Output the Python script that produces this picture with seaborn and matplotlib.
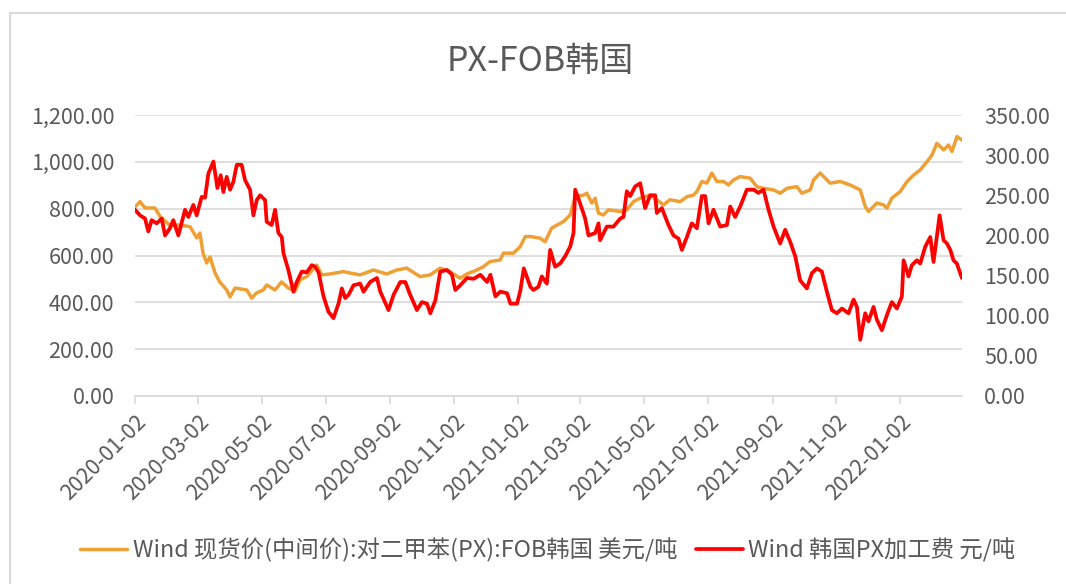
import numpy as np
import pandas as pd
import matplotlib
matplotlib.use("Agg")
import matplotlib.pyplot as plt
from matplotlib.patches import Rectangle
from matplotlib.ticker import FuncFormatter
import seaborn as sns

sns.set_theme(style="white")
plt.rcParams['font.family'] = ['Noto Sans CJK SC', 'DejaVu Sans']

title = "PX-FOB韩国"
label_px = "Wind 现货价(中间价):对二甲苯(PX):FOB韩国 美元/吨"
label_fee = "Wind 韩国PX加工费 元/吨"
start_date = "2020-01-02"

# days since 2020-01-02 and values (left axis, USD/t)
px_day = [0, 4.8, 9.6, 19, 24, 33, 43, 52.6, 59, 62, 65, 68.5, 71.7, 76.5, 81, 87.6, 90.8,
          95.6, 106.7, 111.5, 116, 122.6, 125.8, 133.8, 140, 146.5, 153, 157.7, 164, 173.6,
          178.4, 186, 199, 215, 227.7, 240.5, 250, 259.6, 272.3, 281.9, 291.4, 301, 310.5,
          317, 326.5, 332.8, 339, 348.8, 352, 361.5, 368, 372.8, 377.6, 387, 391.8, 398,
          409.3, 415.7, 420.5, 428.4, 431.6, 436.4, 439.6, 442.7, 447.5, 452.3, 463.5, 469.9,
          476.2, 482.6, 492, 498.5, 504.8, 511, 520.8, 527.2, 533.5, 536.7, 541.5, 546.3,
          551, 555.9, 562.2, 567, 571.7, 578, 587.7, 594, 600.4, 610, 616.4, 622.8, 632.3,
          637, 645, 648.2, 654.6, 664, 673.7, 683.2, 692.8, 697.6, 700.7, 708.7, 715, 718.3,
          723, 731, 737.5, 743.8, 750, 756.6, 761.3, 766, 772.5, 777.2, 780.4, 785.2, 790]
px_val = [807, 830, 803, 803, 766, 730, 730, 723, 675, 696, 610, 568, 594, 525, 487, 453, 423,
          461, 453, 418, 440, 453, 474, 453, 487, 461, 448, 496, 510, 559,
          517, 521, 531, 517, 538, 521, 538, 546, 510, 517, 546, 531, 503,
          521, 538, 552, 574, 581, 610, 610, 638, 681, 681, 674, 659, 717,
          745, 773, 851, 858, 866, 824, 845, 781, 773, 795, 788, 795,
          830, 845, 858, 838, 816, 838, 830, 851, 858, 873, 916, 909,
          952, 916, 916, 901, 923, 937, 930, 894, 887, 880, 866, 887, 894,
          866, 880, 923, 952, 909, 916, 901, 880, 809, 788, 824, 816, 802,
          845, 873, 916, 944, 965, 1001, 1029, 1079, 1051, 1072, 1044, 1108, 1093]

# days since 2020-01-02 and values (right axis, yuan/t)
fee_day = [0, 4.8, 9.6, 12.7, 15.9, 20.7, 25.5, 28.7, 33.4, 36.6, 41.4, 47.8, 51, 55.7, 58.9,
           63.7, 66.9, 70.1, 74.9, 78.7, 81.9, 84.4, 87.6, 90.8, 94, 97.2, 101.9, 105.1,
           109.9, 113.1, 116.3, 119.5, 124.3, 125.8, 130.6, 133.8, 137, 140.2, 141.8, 146.5,
           151.3, 154.5, 159.3, 164.1, 168.9, 172.1, 175.3, 180.1, 184.8, 189.6, 194.4,
           197.6, 200.8, 204, 208.8, 215.1, 218.3, 224.7, 231.1, 234.3, 242.2, 247, 253.4,
           258.2, 262.9, 269.3, 274.1, 278.9, 282.1, 286.9, 291.6, 298, 302.8, 306, 310.8,
           317.1, 323.5, 329.9, 336.3, 339.5, 344.3, 349, 355.4, 358.6, 365, 368.2, 371.4,
           377.7, 380.6, 385.4, 388.6, 393.4, 396.6, 401.3, 406.1, 410.9, 415.7, 418.9,
           420.5, 425.2, 430, 433.2, 439.6, 442.8, 444.3, 450.7, 457.1, 463.5, 466.6, 469.8,
           473, 477.8, 482.6, 487.3, 492.1, 496.9, 498.5, 503.3, 509.6, 514.4, 519.2, 522.4,
           527.2, 531.9, 536.7, 541.5, 544.7, 547.9, 552.6, 559, 565.4, 568.6, 573.3, 578.1,
           584.5, 590.9, 595.6, 600.4, 605.2, 610, 616.3, 621.1, 625.9, 630.7, 635.4, 641.8,
           646.6, 651.4, 656.1, 660.9, 665.7, 670.5, 675.3, 681.6, 686.4, 689.6, 692.8,
           697.5, 700.7, 705.5, 708.7, 713.5, 718.3, 723, 727.8, 732.6, 734.2, 738.9, 742.1,
           746.9, 750.1, 754.9, 759.7, 762.8, 768.6, 772.4, 775.6, 778.8, 781.9, 785.1, 789.9]
fee_val = [232, 225, 221, 205, 219, 215, 221, 200, 209, 219, 200, 232, 223, 238, 225,
           248, 247, 277, 292, 259, 275, 254, 273, 257, 267, 288, 288, 269,
           257, 225, 244, 250, 244, 217, 213, 232, 203, 198, 178, 157,
           130, 142, 155, 154, 163, 161, 154, 124, 105, 97, 115,
           134, 122, 126, 138, 140, 130, 142, 147, 130, 107, 126, 142,
           142, 126, 107, 117, 115, 103, 119, 155, 157, 151, 132, 138,
           147, 146, 151, 142, 151, 124, 130, 128, 115, 115, 132, 159,
           136, 132, 136, 149, 140, 182, 161, 165, 174, 186, 203,
           257, 240, 221, 200, 203, 215, 194, 211, 211, 221, 223, 255,
           249, 261, 265, 234, 250, 250, 228, 234, 213, 200, 196, 182,
           198, 215, 209, 249, 249, 215, 232, 211, 213, 236, 223, 236,
           257, 257, 253, 257, 232, 211, 190, 207, 192, 174, 144, 134,
           153, 159, 155, 130, 107, 103, 109, 103, 120, 111, 70,
           103, 93, 111, 95, 82, 101, 117, 109, 124, 169, 149, 163,
           169, 165, 186, 198, 167, 225, 194, 190, 182, 169, 165, 147]

left_ticks = [0, 200, 400, 600, 800, 1000, 1200]
right_ticks = [0, 50, 100, 150, 200, 250, 300, 350]
tick_dates = ["2020-01-02", "2020-03-02", "2020-05-02", "2020-07-02", "2020-09-02",
              "2020-11-02", "2021-01-02", "2021-03-02", "2021-05-02", "2021-07-02",
              "2021-09-02", "2021-11-02", "2022-01-02"]

t0 = pd.Timestamp(start_date)
df_px = pd.DataFrame({"date": t0 + pd.to_timedelta(px_day, unit="D"), "value": px_val})
df_fee = pd.DataFrame({"date": t0 + pd.to_timedelta(fee_day, unit="D"), "value": fee_val})

ORANGE = "#EEA035"
RED = "#FF0000"
GREY = "#595959"
GRID = "#D9D9D9"
TICK_FS = 15.5

fig = plt.figure(figsize=(10.66, 5.84), dpi=100)
ax = fig.add_axes([135 / 1066, 1 - 396 / 584, (962 - 135) / 1066, (396 - 115) / 584])
ax2 = ax.twinx()

sns.lineplot(data=df_px, x="date", y="value", ax=ax, color=ORANGE, linewidth=2.5,
             label=label_px, legend=False)
sns.lineplot(data=df_fee, x="date", y="value", ax=ax2, color=RED, linewidth=2.7,
             label=label_fee, legend=False)

ax.set_ylim(0, 1200)
ax2.set_ylim(0, 350)
ax.set_yticks(left_ticks)
ax2.set_yticks(right_ticks)
fmt = FuncFormatter(lambda v, p: f"{v:,.2f}")
ax.yaxis.set_major_formatter(fmt)
ax2.yaxis.set_major_formatter(fmt)

ax.set_xlim(t0, t0 + pd.Timedelta(days=790))
ax.set_xticks(pd.to_datetime(tick_dates))
ax.set_xticklabels(tick_dates, rotation=45, ha="right", rotation_mode="anchor")

ax.grid(axis="y", color=GRID, linewidth=1.2)
ax.set_axisbelow(True)
for a in (ax, ax2):
    for s in ("left", "right", "top"):
        a.spines[s].set_visible(False)
    a.set_xlabel("")
    a.set_ylabel("")
ax2.spines["bottom"].set_visible(False)
ax.spines["bottom"].set_color(GRID)
ax.spines["bottom"].set_linewidth(1.2)

ax.tick_params(axis="x", colors=GRID, length=6, width=1.2, direction="out", pad=5,
               labelcolor=GREY, labelsize=TICK_FS)
ax.tick_params(axis="y", length=0, labelcolor=GREY, labelsize=TICK_FS, pad=15)
ax2.tick_params(axis="y", length=0, labelcolor=GREY, labelsize=TICK_FS, pad=16)
ax.xaxis.set_tick_params(bottom=True)

fig.text(540 / 1066, 1 - 61 / 584, title, ha="center", va="center", fontsize=24.5, color=GREY)

h1, l1 = ax.get_legend_handles_labels()
h2, l2 = ax2.get_legend_handles_labels()
fig.legend(h1 + h2, l1 + l2, loc="center", bbox_to_anchor=(548 / 1066, 1 - 550 / 584),
           ncol=2, frameon=False, fontsize=16.8, labelcolor=GREY, handlelength=2.0,
           handletextpad=0.25, columnspacing=0.8)

fig.add_artist(Rectangle((10 / 1066, -0.1), 1.2, 1 - 13 / 584 + 0.1, transform=fig.transFigure,
                         fill=False, edgecolor="#D9D9D9", linewidth=1.5))

fig.savefig("out.png", dpi=100, facecolor="white")
